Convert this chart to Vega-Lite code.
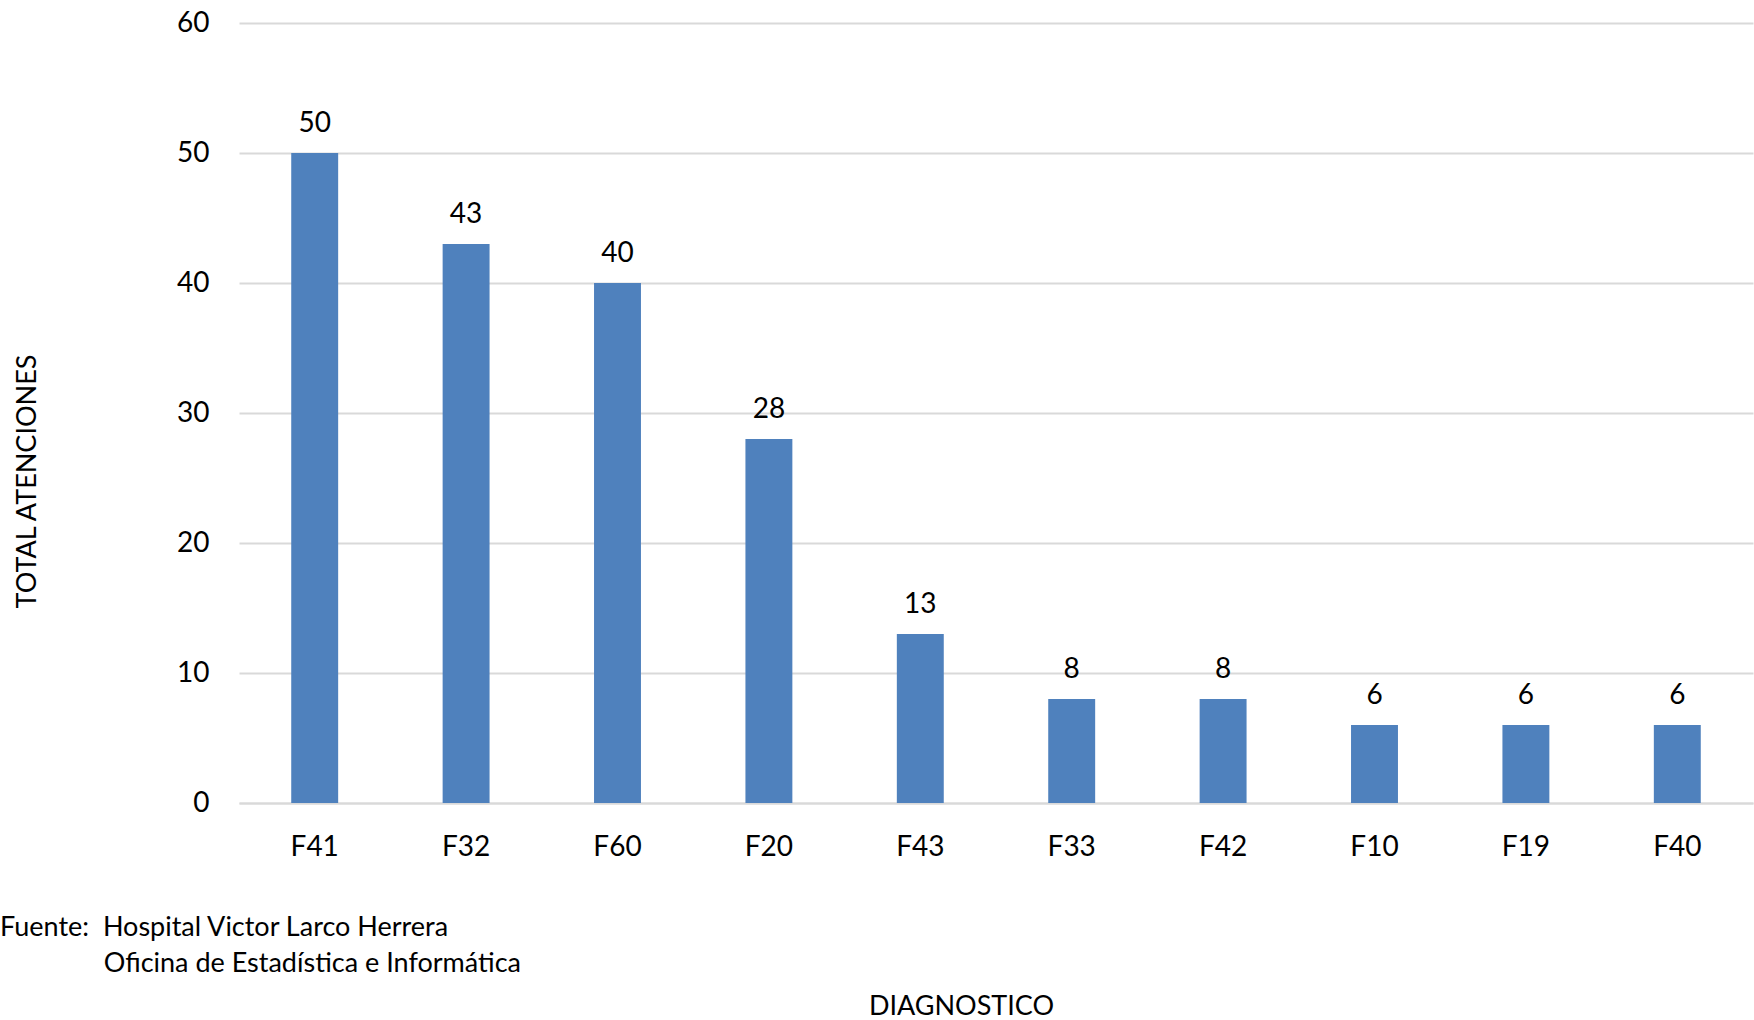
{
  "$schema": "https://vega.github.io/schema/vega-lite/v6.json",
  "autosize": "none",
  "width": 1514,
  "height": 780,
  "padding": {"left": 239, "top": 23, "right": 1, "bottom": 217},
  "background": "white",
  "config": {
    "font": "Lato",
    "view": {"stroke": null},
    "axis": {"labelFont": "Lato", "titleFont": "Lato", "labelColor": "#000000", "titleColor": "#000000", "labelFontSize": 28, "titleFontSize": 27, "titleFontWeight": "normal"}
  },
  "title": {
    "text": ["Fuente:\u00a0\u00a0Hospital Victor Larco Herrera", "\u200b\u00a0\u00a0\u00a0\u00a0\u00a0\u00a0\u00a0\u00a0\u00a0\u00a0\u00a0\u00a0\u00a0\u00a0\u00a0Oficina de Estadística e Informática"],
    "orient": "bottom",
    "anchor": "start",
    "frame": "group",
    "dx": -239,
    "dy": -91,
    "offset": 0,
    "font": "Lato",
    "fontSize": 27,
    "fontWeight": "normal",
    "color": "#000000",
    "lineHeight": 36,
    "baseline": "middle"
  },
  "data": {
    "values": [
      {"diagnostico": "F41", "total": 50},
      {"diagnostico": "F32", "total": 43},
      {"diagnostico": "F60", "total": 40},
      {"diagnostico": "F20", "total": 28},
      {"diagnostico": "F43", "total": 13},
      {"diagnostico": "F33", "total": 8},
      {"diagnostico": "F42", "total": 8},
      {"diagnostico": "F10", "total": 6},
      {"diagnostico": "F19", "total": 6},
      {"diagnostico": "F40", "total": 6}
    ]
  },
  "encoding": {
    "x": {
      "field": "diagnostico",
      "type": "nominal",
      "sort": null,
      "scale": {"paddingInner": 0.69, "paddingOuter": 0.345},
      "axis": {
        "title": "DIAGNOSTICO",
        "labelAngle": 0,
        "labelPadding": 30,
        "ticks": false,
        "domainColor": "#d9d9d9",
        "domainWidth": 2,
        "titleX": 722,
        "titleY": 203,
        "titleBaseline": "middle",
        "titleAnchor": "middle"
      }
    },
    "y": {
      "field": "total",
      "type": "quantitative",
      "scale": {"domain": [0, 60], "nice": false},
      "axis": {
        "title": "TOTAL ATENCIONES",
        "values": [0, 10, 20, 30, 40, 50, 60],
        "domain": false,
        "ticks": false,
        "labelPadding": 30,
        "gridColor": "#d9d9d9",
        "gridWidth": 2,
        "titleX": -212,
        "titleY": 458,
        "titleBaseline": "middle",
        "titleAnchor": "middle"
      }
    }
  },
  "layer": [
    {"mark": {"type": "bar", "color": "#4f81bd"}},
    {
      "mark": {"type": "text", "baseline": "middle", "dy": -29, "fontSize": 28, "font": "Lato", "color": "#000000"},
      "encoding": {"text": {"field": "total", "type": "quantitative"}}
    }
  ]
}
